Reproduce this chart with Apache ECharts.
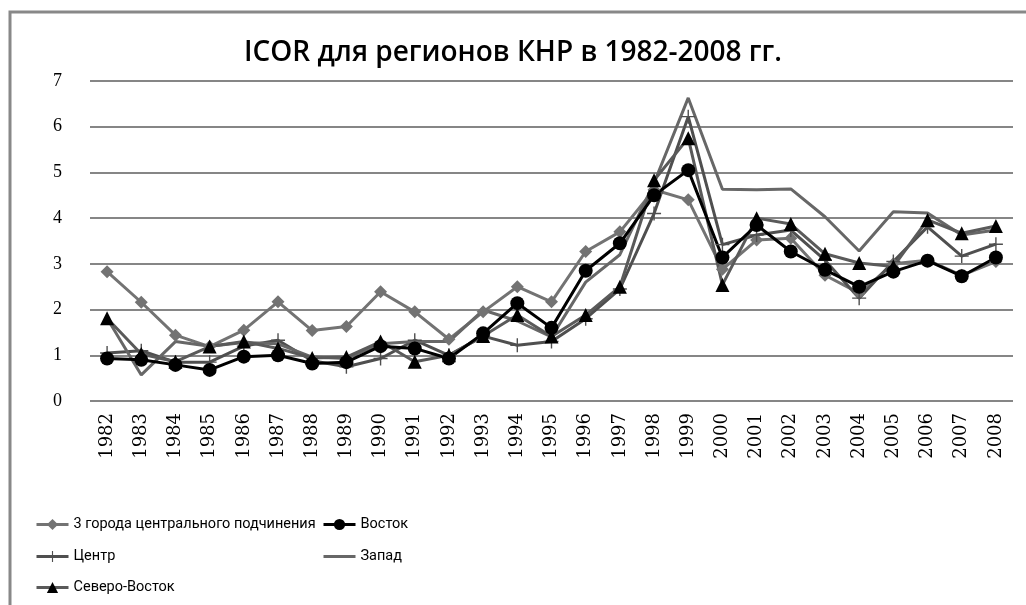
<!DOCTYPE html>
<html>
<head>
<meta charset="utf-8">
<script src="https://cdn.jsdelivr.net/npm/echarts@6/dist/echarts.min.js"></script>
<style>
  html, body { margin: 0; padding: 0; background: #fff; }
  #chart { width: 1026px; height: 605px; }
</style>
</head>
<body>
<div id="chart"></div>
<script>
// years on the x axis
var years = ['1982','1983','1984','1985','1986','1987','1988','1989','1990','1991','1992','1993','1994','1995',
             '1996','1997','1998','1999','2000','2001','2002','2003','2004','2005','2006','2007','2008'];

// ICOR by region
var goroda = [2.83,2.16,1.44,1.19,1.55,2.17,1.54,1.63,2.39,1.95,1.35,1.95,2.5,2.17,
              3.27,3.7,4.62,4.4,2.88,3.52,3.56,2.75,2.36,3.0,3.08,2.75,3.05];
var vostok = [0.93,0.9,0.79,0.68,0.97,1.0,0.82,0.85,1.2,1.15,0.93,1.48,2.14,1.6,
              2.85,3.45,4.5,5.05,3.14,3.85,3.27,2.87,2.5,2.83,3.07,2.73,3.14];
var centr = [1.05,1.1,0.85,0.85,1.2,1.33,0.88,0.75,0.93,1.33,1.0,1.42,1.22,1.3,
             1.8,2.45,4.1,6.22,3.42,3.63,3.74,3.08,2.25,3.05,3.81,3.17,3.43];
var zapad = [1.81,0.57,1.3,1.2,1.28,1.25,0.96,0.93,1.25,1.3,1.3,1.99,1.75,1.4,
             2.6,3.2,4.77,6.63,4.63,4.62,4.64,4.03,3.28,4.14,4.11,3.63,3.74];
var sevVostok = [1.81,1.03,0.86,1.19,1.3,1.15,0.94,0.96,1.3,0.86,1.0,1.42,1.88,1.41,
                 1.88,2.5,4.83,5.75,2.54,4.0,3.87,3.22,3.02,2.94,3.96,3.67,3.83];

var names = ['3 города центрального подчинения', 'Восток', 'Центр', 'Запад', 'Северо-Восток'];

var chart = echarts.init(document.getElementById('chart'));

function line(name, data, color, symbol, size, symColor) {
  return {
    name: name,
    type: 'line',
    data: data,
    symbol: symbol,
    symbolSize: size,
    lineStyle: { color: color, width: 3 },
    itemStyle: { color: symColor || color, opacity: size ? 1 : 0 },
    emphasis: { disabled: true },
    animation: false
  };
}

var plusPath = 'path://M9,0 L11,0 L11,9 L20,9 L20,11 L11,11 L11,20 L9,20 L9,11 L0,11 L0,9 L9,9 Z';

var legendText = { fontFamily: 'Roboto', fontSize: 14.5, color: '#000' };

// one legend per entry, laid out like the original two-column block
function leg(name, x, y) {
  return { data: [name], left: x, top: y, itemWidth: 32, itemHeight: 14, textStyle: legendText,
           lineStyle: { width: 3 }, itemGap: 2 };
}

chart.setOption({
  backgroundColor: '#fff',
  title: {
    text: 'ICOR для регионов КНР в 1982-2008 гг.',
    left: 'center',
    top: 34,
    textStyle: { fontFamily: 'Open Sans', fontSize: 28, fontWeight: 600, color: '#000' }
  },
  graphic: [
    { type: 'polyline', shape: { points: [[10, 605], [10, 12], [1026, 12]] },
      style: { stroke: '#888', lineWidth: 3, fill: null } }
  ],
  legend: [
    leg(names[0], 30, 512),
    leg(names[1], 317, 512),
    leg(names[2], 30, 544),
    leg(names[3], 317, 544),
    leg(names[4], 30, 575)
  ],
  grid: { left: 90, right: 13, top: 81, bottom: 204 },
  xAxis: {
    type: 'category',
    data: years,
    boundaryGap: true,
    axisLine: { show: false },
    axisTick: { show: false },
    axisLabel: { rotate: 90, margin: 12, fontFamily: 'DejaVu Serif', fontSize: 18, color: '#000', interval: 0 }
  },
  yAxis: {
    type: 'value',
    min: 0, max: 7, interval: 1,
    axisLine: { show: false },
    axisTick: { show: false },
    axisLabel: { margin: 28, fontFamily: 'Liberation Serif', fontSize: 18, color: '#000' },
    splitLine: { lineStyle: { color: '#868686', width: 2 } }
  },
  series: [
    line(names[0], goroda, '#737373', 'diamond', 13),
    line(names[2], centr, '#4f4f4f', plusPath, 14),
    line(names[3], zapad, '#676767', 'circle', 0),
    line(names[4], sevVostok, '#5a5a5a', 'triangle', 14, '#000'),
    line(names[1], vostok, '#000', 'circle', 14)
  ]
});
</script>
</body>
</html>
